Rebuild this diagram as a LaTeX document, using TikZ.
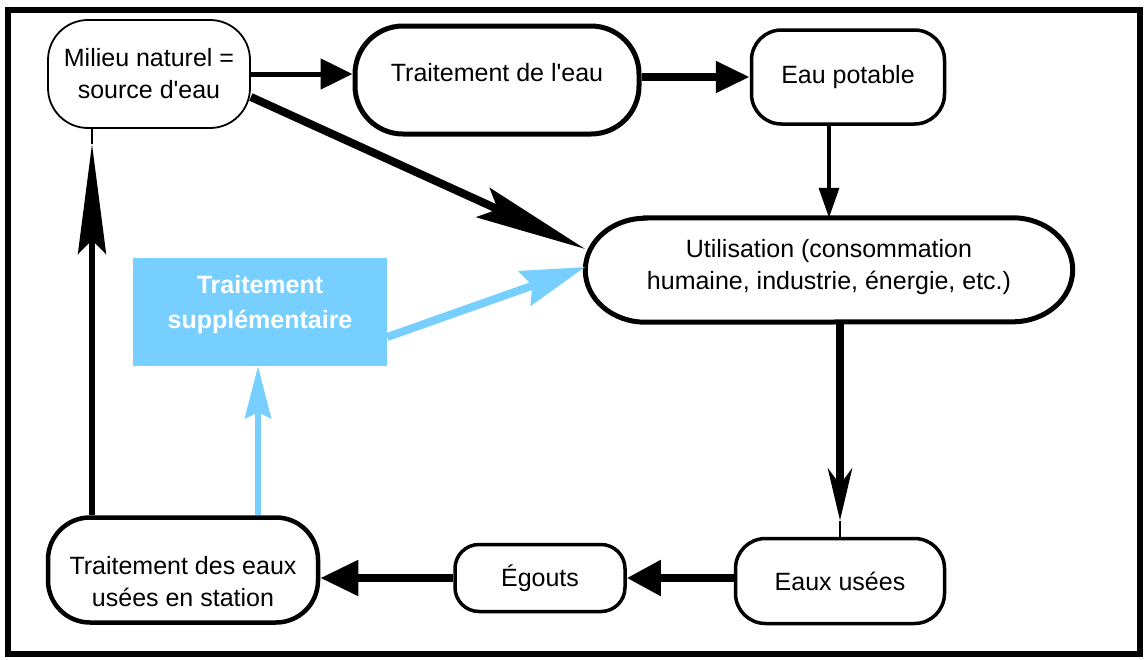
\documentclass[tikz,border=0pt]{standalone}
\usepackage{fontspec}
\setmainfont{Liberation Sans}
\usetikzlibrary{arrows.meta,calc}
\definecolor{skyb}{RGB}{119,207,255}
\begin{document}
\begin{tikzpicture}[x=1pt,y=-1pt,
  lbl/.style={font=\fontsize{25}{32}\selectfont, align=center, inner sep=0pt},
  rbox/.style={lbl, draw, rectangle, rounded corners=#1},
  suptxt/.style={fill=skyb, inner sep=0pt, align=center, text=white, font=\bfseries\fontsize{25}{35}\selectfont},
  blueline/.style={draw=skyb, line width=#1},
  ]
\useasboundingbox (0,0) rectangle (1146,659);
\draw[line width=6pt] (8,10) rectangle (1140,654);

% nodes
\node[rbox=40pt, line width=1.8pt, minimum width=202pt, minimum height=108pt] (mil) at (149,74) {Milieu naturel =\\source d\textquotesingle eau};
\node[rbox=48pt, line width=5pt, minimum width=284pt, minimum height=108pt] (tle) at (497,80) {Traitement de l\textquotesingle eau\rule[-16pt]{0pt}{16pt}};
\node[rbox=30pt, line width=3.5pt, minimum width=193pt, minimum height=94pt] (ep) at (848,77) {Eau potable};
\node[lbl, minimum width=487pt, minimum height=104pt] (util) at (829,270) {Utilisation (consommation\\humaine, industrie, énergie, etc.)\rule[-12pt]{0pt}{12pt}};
\draw[line width=5pt] ([xshift=60pt]util.north west) -- ([xshift=-60pt]util.north east)
  arc[start angle=90,end angle=-90,x radius=60pt,y radius=52pt]
  -- ([xshift=60pt]util.south west)
  arc[start angle=270,end angle=90,x radius=60pt,y radius=52pt] -- cycle;
\node[suptxt, minimum width=254pt, minimum height=108pt] (sup) at (260,312) {Traitement\\supplémentaire\rule[-20pt]{0pt}{20pt}};
\node[rbox=42pt, line width=4.5pt, minimum width=270pt, minimum height=105pt] (tde) at (183,570) {\rule{0pt}{42pt}Traitement des eaux\\usées en station};
\node[rbox=24pt, line width=3.5pt, minimum width=170pt, minimum height=67pt] (eg) at (540,578) {Égouts};
\node[rbox=30pt, line width=3.5pt, minimum width=209pt, minimum height=85pt] (eu) at (840,581) {Eaux usées};

% helper coordinates
\coordinate (ua) at ([yshift=16pt]eu.north);
\coordinate (ma) at ([xshift=-57pt,yshift=-15pt]mil.south);

% connectors
\draw[line width=5pt, -{Triangle[length=32pt,width=30pt]}] (mil.east) -- (mil.east -| tle.west);
\draw[line width=8pt, -{Triangle[length=34pt,width=30pt]}] (tle.east |- ep.west) -- (ep.west);
\draw[line width=3.5pt, -{Triangle[length=30pt,width=20pt]}] (util.north |- ep.south) -- (util.north);
\draw[line width=8pt, -{Stealth[length=112pt,width=32pt,inset=16pt]}] ([yshift=-23pt]mil.east) -- ([yshift=21pt]util.west);
\draw[line width=8pt, -{Stealth[length=52pt,width=24pt,inset=16pt]}] (eu.north |- util.south) -- (ua);
\draw[line width=2pt] (ua) -- (eu.north);
\draw[line width=8pt, -{Triangle[length=34pt,width=34pt]}] (eu.west |- eg.east) -- (eg.east);
\draw[line width=8pt, -{Triangle[length=38pt,width=34pt]}] (eg.west) -- (eg.west -| tde.east);
\draw[line width=6pt, -{Stealth[length=110pt,width=28pt,inset=14pt]}] ([xshift=-91pt]tde.north) -- (ma);
\draw[line width=2pt] (ma) -- ([xshift=-57pt]mil.south);
\draw[blueline=6pt, -{Stealth[length=52pt,width=26pt,inset=6pt]}] ([xshift=75pt]tde.north) -- ([xshift=75pt]tde.north |- sup.south);
\draw[blueline=8pt, -{Stealth[length=64pt,width=36pt,inset=8pt]}] ([yshift=-25pt]sup.east) -- ([yshift=3pt]util.west);
\end{tikzpicture}
\end{document}
